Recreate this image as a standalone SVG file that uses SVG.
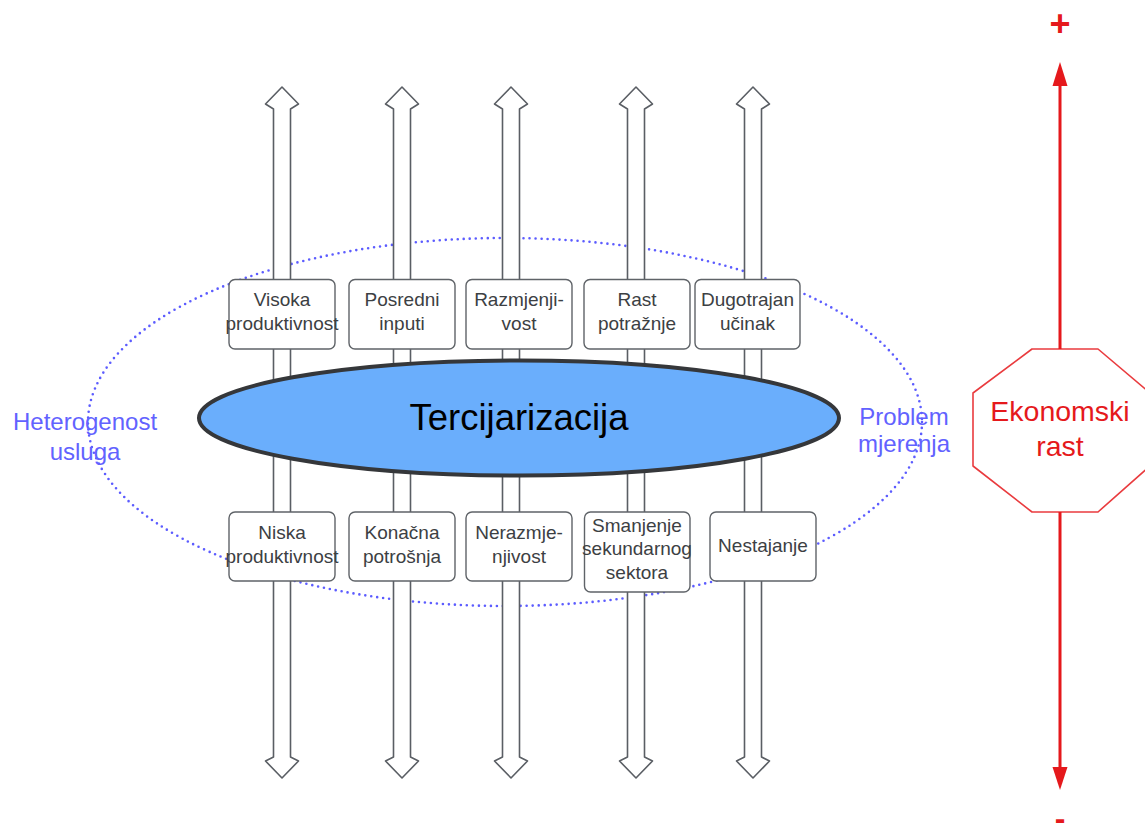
<svg xmlns="http://www.w3.org/2000/svg" width="1145" height="825" viewBox="0 0 1145 825">
<defs>
<style>
.bg{fill:#ffffff}
.dot{fill:none;stroke:#5c5cff;stroke-width:2.6;stroke-dasharray:0 6;stroke-linecap:round}
.arr{fill:#ffffff;stroke:#5a5e64;stroke-width:1.6;stroke-linejoin:round}
.box{fill:#ffffff;stroke:#5f6368;stroke-width:1.4}
.bt{font-family:"Liberation Sans",Arial,sans-serif;font-size:19px;fill:#3c4043;text-anchor:middle}
.side{font-family:"Liberation Sans",Arial,sans-serif;font-size:24px;fill:#6262ff;text-anchor:middle}
.red{fill:#e5191c}
.redl{stroke:#e5191c;stroke-width:3;fill:none}
.rt{font-family:"Liberation Sans",Arial,sans-serif;fill:#e5191c;text-anchor:middle}
</style>
</defs>
<rect class="bg" x="0" y="0" width="1145" height="825"/>
<g id="scope">
<ellipse class="dot" cx="505" cy="422" rx="417" ry="184"/>
</g>
<g id="connectors">
<path class="arr" d="M282,87 L298.5,104 L290.5,109 L290.5,757 L298.5,761 L282,778 L265.5,761 L273.5,757 L273.5,109 L265.5,104 Z"/>
<path class="arr" d="M402,87 L418.5,104 L410.5,109 L410.5,757 L418.5,761 L402,778 L385.5,761 L393.5,757 L393.5,109 L385.5,104 Z"/>
<path class="arr" d="M511,87 L527.5,104 L519.5,109 L519.5,757 L527.5,761 L511,778 L494.5,761 L502.5,757 L502.5,109 L494.5,104 Z"/>
<path class="arr" d="M636,87 L652.5,104 L644.5,109 L644.5,757 L652.5,761 L636,778 L619.5,761 L627.5,757 L627.5,109 L619.5,104 Z"/>
<path class="arr" d="M753,87 L769.5,104 L761.5,109 L761.5,757 L769.5,761 L753,778 L736.5,761 L744.5,757 L744.5,109 L736.5,104 Z"/>
<line class="redl" x1="1060" y1="84" x2="1060" y2="349"/>
<polygon class="red" points="1060,62 1067.5,86 1052.5,86"/>
<line class="redl" x1="1060" y1="512" x2="1060" y2="769"/>
<polygon class="red" points="1052.5,767 1067.5,767 1060,790"/>
</g>
<g id="n-visoka">
<rect class="box" x="229" y="279.5" width="106" height="69.5" rx="6"/>
<text class="bt" x="282" y="306">Visoka</text>
<text class="bt" x="282" y="330">produktivnost</text>
</g>
<g id="n-posredni">
<rect class="box" x="349" y="279.5" width="106" height="69.5" rx="6"/>
<text class="bt" x="402" y="306">Posredni</text>
<text class="bt" x="402" y="330">inputi</text>
</g>
<g id="n-razmjenjivost">
<rect class="box" x="466" y="279.5" width="106" height="69.5" rx="6"/>
<text class="bt" x="519" y="306">Razmjenji-</text>
<text class="bt" x="519" y="330">vost</text>
</g>
<g id="n-rast">
<rect class="box" x="584" y="279.5" width="106" height="69.5" rx="6"/>
<text class="bt" x="637" y="306">Rast</text>
<text class="bt" x="637" y="330">potražnje</text>
</g>
<g id="n-dugotrajan">
<rect class="box" x="695" y="279.5" width="105" height="69.5" rx="6"/>
<text class="bt" x="747.5" y="306">Dugotrajan</text>
<text class="bt" x="747.5" y="330">učinak</text>
</g>
<g id="n-niska">
<rect class="box" x="229" y="512" width="106" height="69" rx="6"/>
<text class="bt" x="282" y="538.5">Niska</text>
<text class="bt" x="282" y="562.5">produktivnost</text>
</g>
<g id="n-konacna">
<rect class="box" x="349" y="512" width="106" height="69" rx="6"/>
<text class="bt" x="402" y="538.5">Konačna</text>
<text class="bt" x="402" y="562.5">potrošnja</text>
</g>
<g id="n-nerazmjenjivost">
<rect class="box" x="466" y="512" width="106" height="69" rx="6"/>
<text class="bt" x="519" y="538.5">Nerazmje-</text>
<text class="bt" x="519" y="562.5">njivost</text>
</g>
<g id="n-smanjenje">
<rect class="box" x="584.5" y="512" width="105.5" height="80" rx="6"/>
<text class="bt" x="637" y="531.5">Smanjenje</text>
<text class="bt" x="637" y="555">sekundarnog</text>
<text class="bt" x="637" y="579">sektora</text>
</g>
<g id="n-nestajanje">
<rect class="box" x="710" y="512" width="106" height="69" rx="6"/>
<text class="bt" x="763" y="552">Nestajanje</text>
</g>
<g id="n-tercijarizacija">
<ellipse cx="519" cy="418" rx="320" ry="57.5" fill="#6aaefc" stroke="#35373a" stroke-width="4"/>
<text x="519" y="430" font-family="'Liberation Sans',Arial,sans-serif" font-size="36.5" fill="#000000" text-anchor="middle">Tercijarizacija</text>
</g>
<g id="n-heterogenost">
<text class="side" x="85" y="430">Heterogenost</text>
<text class="side" x="85" y="460">usluga</text>
</g>
<g id="n-problem">
<text class="side" x="904" y="425">Problem</text>
<text class="side" x="904" y="452">mjerenja</text>
</g>
<g id="n-ekonomski">
<polygon points="1032,349 1098,349 1150,393 1150,466 1098,512 1032,512 973,466 973,393" fill="#ffffff" stroke="#e5191c" stroke-width="1.6" stroke-linejoin="round" stroke-opacity="0.85"/>
<text class="rt" x="1060" y="421" font-size="28.5">Ekonomski</text>
<text class="rt" x="1060" y="456" font-size="28.5">rast</text>
</g>
<g id="n-plus">
<text class="rt" x="1060" y="36" font-size="36" font-weight="bold">+</text>
</g>
<g id="n-minus">
<text class="rt" x="1060" y="829" font-size="32" font-weight="bold">-</text>
</g>
</svg>
